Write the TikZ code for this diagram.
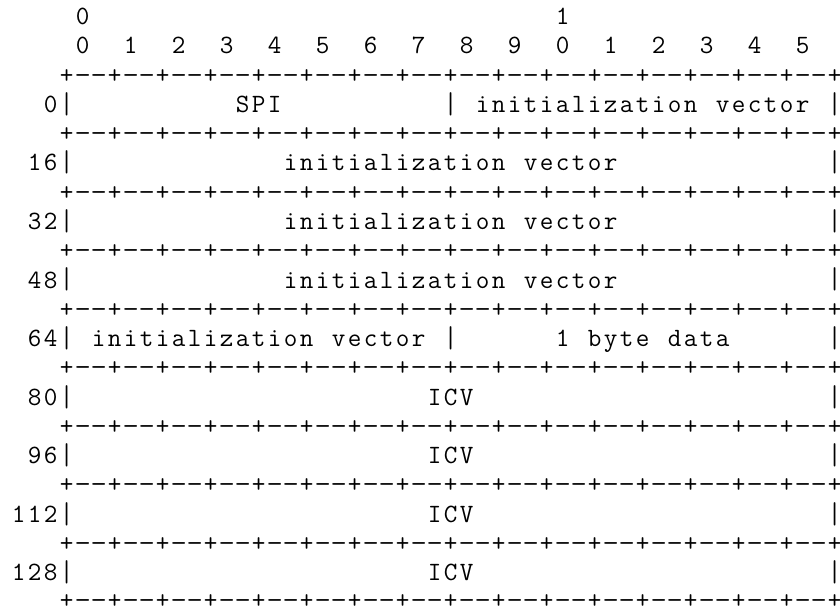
\documentclass[tikz,border=0pt]{standalone}
\usepackage{graphicx}
\newlength\chw
\setlength\chw{16pt}
\makeatletter
\newcommand\ch[1]{\@tfor\@cc:=#1\do{\makebox[\chw]{\@cc}}}
\makeatother
\newcommand\gp[1]{\hspace*{#1\chw}}
\newcommand\vb{\makebox[\chw]{\raisebox{-0.9pt}{\scalebox{1}[1.14]{|}}}}
\newcommand\dsh{\makebox[\chw]{\scalebox{1.2}[1]{-}}}
\newcommand\pl{\makebox[\chw]{+}}
\newcommand\cell{\dsh\dsh\pl}
\newcommand\lastc[1]{\makebox[10pt][l]{#1}}
\newcommand\ivec{\ch{initialization}\gp{1}\ch{vector}}
\newcommand\brd{\raisebox{0pt}[\height][0pt]{\gp{3}\pl\cell\cell\cell\cell\cell\cell\cell\cell\cell\cell\cell\cell\cell\cell\cell\dsh\dsh\lastc{\pl}}}
\tikzset{
  asciiline/.style={inner sep=0pt, outer sep=0pt, anchor=base west,
    font=\ttfamily\fontsize{26.4}{29.28}\selectfont, text=black}
}
\begin{document}
\begin{tikzpicture}[x=1pt,y=-1pt]
\useasboundingbox (0,0) rectangle (840,612);
\def\lx{10.7}
\node[asciiline] (l0)  at (\lx, 24.50) {\gp{4}\ch{0}\gp{29}\ch{1}};
\node[asciiline] (l1)  at (\lx, 53.78) {\gp{4}\ch{0}\gp{2}\ch{1}\gp{2}\ch{2}\gp{2}\ch{3}\gp{2}\ch{4}\gp{2}\ch{5}\gp{2}\ch{6}\gp{2}\ch{7}\gp{2}\ch{8}\gp{2}\ch{9}\gp{2}\ch{0}\gp{2}\ch{1}\gp{2}\ch{2}\gp{2}\ch{3}\gp{2}\ch{4}\gp{2}\ch{5}};
\node[asciiline] (l2)  at (\lx, 83.06) {\brd};
\node[asciiline] (l3)  at (\lx,112.34) {\gp{2}\ch{0}\vb\gp{10}\ch{SPI}\gp{10}\vb\gp{1}\ivec\gp{1}\lastc{\vb}};
\node[asciiline] (l4)  at (\lx,141.62) {\brd};
\node[asciiline] (l5)  at (\lx,170.90) {\gp{1}\ch{16}\vb\gp{13}\ivec\gp{13}\lastc{\vb}};
\node[asciiline] (l6)  at (\lx,200.18) {\brd};
\node[asciiline] (l7)  at (\lx,229.46) {\gp{1}\ch{32}\vb\gp{13}\ivec\gp{13}\lastc{\vb}};
\node[asciiline] (l8)  at (\lx,258.74) {\brd};
\node[asciiline] (l9)  at (\lx,288.02) {\gp{1}\ch{48}\vb\gp{13}\ivec\gp{13}\lastc{\vb}};
\node[asciiline] (l10) at (\lx,317.30) {\brd};
\node[asciiline] (l11) at (\lx,346.58) {\gp{1}\ch{64}\vb\gp{1}\ivec\gp{1}\vb\gp{6}\ch{1}\gp{1}\ch{byte}\gp{1}\ch{data}\gp{6}\lastc{\vb}};
\node[asciiline] (l12) at (\lx,375.86) {\brd};
\node[asciiline] (l13) at (\lx,405.14) {\gp{1}\ch{80}\vb\gp{22}\ch{ICV}\gp{22}\lastc{\vb}};
\node[asciiline] (l14) at (\lx,434.42) {\brd};
\node[asciiline] (l15) at (\lx,463.70) {\gp{1}\ch{96}\vb\gp{22}\ch{ICV}\gp{22}\lastc{\vb}};
\node[asciiline] (l16) at (\lx,492.98) {\brd};
\node[asciiline] (l17) at (\lx,522.26) {\ch{112}\vb\gp{22}\ch{ICV}\gp{22}\lastc{\vb}};
\node[asciiline] (l18) at (\lx,551.54) {\brd};
\node[asciiline] (l19) at (\lx,580.82) {\ch{128}\vb\gp{22}\ch{ICV}\gp{22}\lastc{\vb}};
\node[asciiline] (l20) at (\lx,608.80) {\brd};
\end{tikzpicture}
\end{document}
